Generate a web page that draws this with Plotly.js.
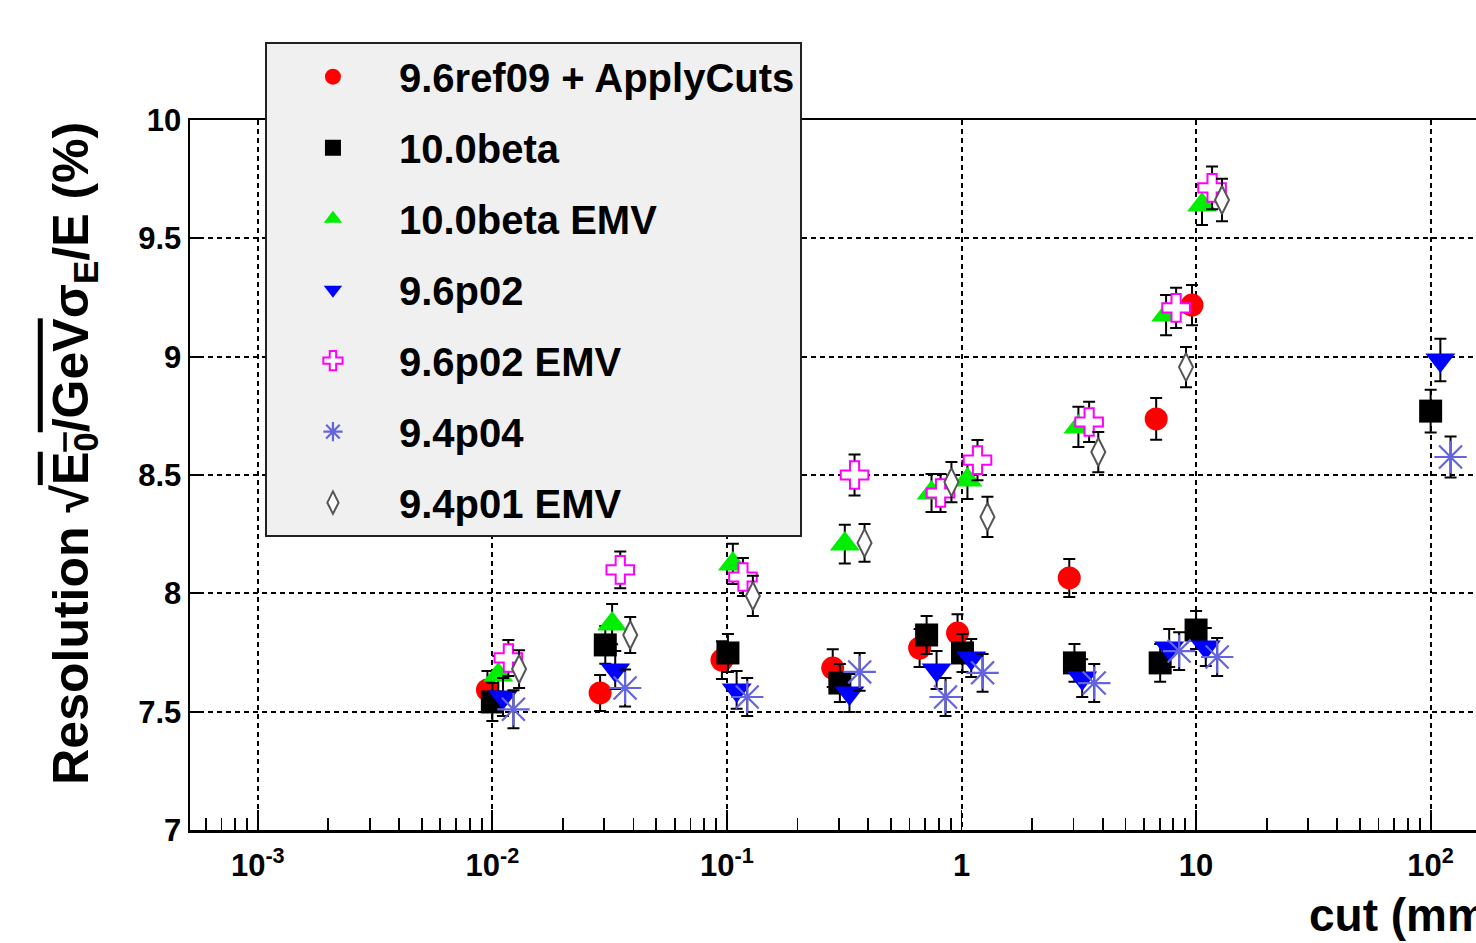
<!DOCTYPE html>
<html>
<head>
<meta charset="utf-8">
<script src="https://cdn.plot.ly/plotly-3.0.1.min.js"></script>
<style>
html, body { margin: 0; padding: 0; background: #fff; overflow: hidden; }
#chart { width: 1515px; height: 943px; }
</style>
</head>
<body>
<div id="chart"></div>
<script>
// ---- data ----
const seriesNames = ["9.6ref09 + ApplyCuts", "10.0beta", "10.0beta EMV", "9.6p02", "9.6p02 EMV", "9.4p04", "9.4p01 EMV"];

const refX = [0.00953, 0.0288, 0.0952, 0.2825, 0.663, 0.962, 2.88, 6.76, 9.61];
const refY = [7.592, 7.579, 7.718, 7.684, 7.769, 7.832, 8.065, 8.737, 9.218];
const refErr = [0.08, 0.076, 0.08, 0.08, 0.08, 0.08, 0.08, 0.088, 0.085];

const betaX = [0.01, 0.0303, 0.101, 0.303, 0.71, 1.01, 3.03, 7.03, 10.0, 100];
const betaY = [7.541, 7.782, 7.748, 7.621, 7.824, 7.748, 7.706, 7.706, 7.845, 8.770];
const betaErr = [0.08, 0.08, 0.08, 0.08, 0.08, 0.08, 0.08, 0.08, 0.08, 0.09];

const betaEmvX = [0.0106, 0.0324, 0.106, 0.318, 0.745, 1.06, 3.15, 7.45, 10.6];
const betaEmvY = [7.655, 7.870, 8.124, 8.208, 8.424, 8.479, 8.703, 9.176, 9.641];
const betaEmvErr = [0.08, 0.085, 0.085, 0.082, 0.08, 0.08, 0.085, 0.085, 0.085];

const p02X = [0.0111, 0.0334, 0.110, 0.333, 0.783, 1.10, 3.27, 7.68, 11.0, 110];
const p02Y = [7.562, 7.676, 7.592, 7.579, 7.676, 7.727, 7.642, 7.769, 7.773, 8.986];
const p02Err = [0.08, 0.08, 0.08, 0.08, 0.08, 0.08, 0.08, 0.08, 0.08, 0.09];

const p02EmvX = [0.0117, 0.0351, 0.117, 0.35, 0.814, 1.17, 3.5, 8.22, 11.7];
const p02EmvY = [7.727, 8.099, 8.069, 8.500, 8.424, 8.563, 8.724, 9.206, 9.713];
const p02EmvErr = [0.076, 0.078, 0.08, 0.087, 0.08, 0.085, 0.085, 0.085, 0.09];

const p04X = [0.0123, 0.0368, 0.122, 0.368, 0.855, 1.23, 3.68, 8.47, 12.3, 121.6];
const p04Y = [7.510, 7.600, 7.562, 7.668, 7.562, 7.664, 7.621, 7.756, 7.731, 8.576];
const p04Err = [0.08, 0.078, 0.08, 0.08, 0.08, 0.08, 0.08, 0.08, 0.08, 0.087];

const p01EmvX = [0.013, 0.0387, 0.129, 0.386, 0.906, 1.29, 3.83, 9.06, 12.9];
const p01EmvY = [7.680, 7.824, 7.989, 8.213, 8.470, 8.323, 8.597, 8.956, 9.662];
const p01EmvErr = [0.08, 0.076, 0.085, 0.08, 0.085, 0.085, 0.085, 0.085, 0.09];

const xTickVals = [0.001, 0.01, 0.1, 1, 10, 100];
const xTickText = ["10<sup>-3</sup>", "10<sup>-2</sup>", "10<sup>-1</sup>", "1", "10", "10<sup>2</sup>"];
const yTickVals = [7, 7.5, 8, 8.5, 9, 9.5, 10];
const yTickText = ["7", "7.5", "8", "8.5", "9", "9.5", "10"];

// ---- traces ----
const FONT = "Liberation Sans, Arial, Helvetica, sans-serif";
function errBar(arr) {
  return { type: "data", array: arr, visible: true, color: "#000", thickness: 2, width: 6 };
}
function mk(name, x, y, e, marker, i) {
  return {
    type: "scatter", mode: "markers", name: name, x: x, y: y,
    error_y: errBar(e), marker: marker, legendgroup: "g" + i, cliponaxis: false
  };
}
const data = [
  mk(seriesNames[0], refX, refY, refErr, { symbol: "circle", size: 23, color: "#ff0000", line: { width: 0 } }, 0),
  mk(seriesNames[1], betaX, betaY, betaErr, { symbol: "square", size: 23, color: "#000000", line: { width: 0 } }, 1),
  mk(seriesNames[2], betaEmvX, betaEmvY, betaEmvErr, { symbol: "triangle-up", size: 26, color: "#00ee00", line: { width: 0 } }, 2),
  mk(seriesNames[3], p02X, p02Y, p02Err, { symbol: "triangle-down", size: 26, color: "#0000ff", line: { width: 0 } }, 3),
  mk(seriesNames[4], p02EmvX, p02EmvY, p02EmvErr, { symbol: "cross", size: 23, color: "#ffffff", line: { width: 2, color: "#ff00ff" } }, 4),
  mk(seriesNames[5], p04X, p04Y, p04Err, { symbol: "asterisk-open", size: 27, color: "#6464e0", line: { width: 2.2, color: "#6464e0" } }, 5),
  mk(seriesNames[6], p01EmvX, p01EmvY, p01EmvErr, { symbol: "diamond-tall", size: 20, color: "#ffffff", line: { width: 2, color: "#555555" } }, 6)
];

const layout = {
  width: 1515, height: 943,
  margin: { l: 190, r: 10, t: 120, b: 113 },
  paper_bgcolor: "#ffffff", plot_bgcolor: "#ffffff",
  font: { family: FONT, color: "#000" },
  showlegend: true,
  legend: {
    x: 0.057, y: 0.4125, xanchor: "left", yanchor: "bottom",
    bgcolor: "#f0f0f0", bordercolor: "#222", borderwidth: 2,
    font: { family: FONT, size: 40, color: "#000", weight: "bold" },
    traceorder: "grouped", tracegroupgap: 16, itemwidth: 122,
    itemsizing: "trace"
  },
  xaxis: {
    type: "log",
    range: [-3.289, 2.317],
    tickmode: "array", tickvals: xTickVals, ticktext: xTickText,
    ticks: "inside", ticklen: 20, tickwidth: 1.8, tickcolor: "#000",
    showline: true, linecolor: "#000", linewidth: 2.5, mirror: true,
    showgrid: true, gridcolor: "#000", gridwidth: 2, griddash: "5px,4px",
    zeroline: false,
    tickfont: { family: FONT, size: 31, color: "#000", weight: "bold" },
    ticklabelstandoff: 6,
    minor: { ticks: "inside", ticklen: 12, tickwidth: 1.8, tickcolor: "#000", dtick: "D1", showgrid: false }
  },
  yaxis: {
    range: [7, 10],
    tickmode: "array", tickvals: yTickVals, ticktext: yTickText,
    ticks: "inside", ticklen: 12, tickwidth: 1.8, tickcolor: "#000",
    showline: true, linecolor: "#000", linewidth: 2.5, mirror: true,
    showgrid: true, gridcolor: "#000", gridwidth: 2, griddash: "5px,4px",
    zeroline: false,
    tickfont: { family: FONT, size: 31, color: "#000", weight: "bold" }
  },
  annotations: [
    {
      xref: "paper", yref: "paper", x: 1, y: -0.12, xanchor: "right", yanchor: "middle",
      text: "cut (mm)", showarrow: false,
      font: { family: FONT, size: 46, color: "#000", weight: "bold" }
    },
    {
      xref: "paper", yref: "paper", x: -0.088, y: 1.0, xanchor: "center", yanchor: "top",
      textangle: -90, showarrow: false,
      text: "Resolution √<span style=\"text-decoration:overline\">E<sub>0</sub>/GeV</span>σ<sub>E</sub>/E (%)",
      font: { family: FONT, size: 50, color: "#000", weight: "bold" }
    }
  ]
};

Plotly.newPlot("chart", data, layout, { staticPlot: true, displayModeBar: false });
</script>
</body>
</html>
